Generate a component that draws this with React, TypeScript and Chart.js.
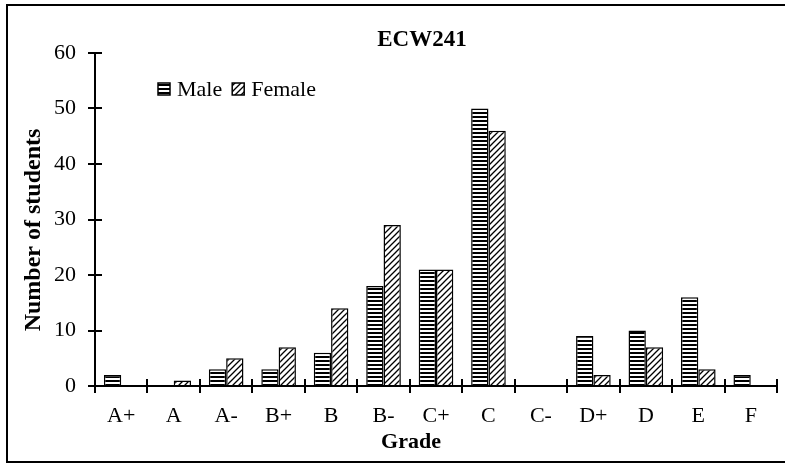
import React, { useEffect, useRef } from 'react';
import { Chart, registerables } from 'chart.js';

Chart.register(...registerables);

const grades = ['A+', 'A', 'A-', 'B+', 'B', 'B-', 'C+', 'C', 'C-', 'D+', 'D', 'E', 'F'];
const maleCounts = [2, 0, 3, 3, 6, 18, 21, 50, 0, 9, 10, 16, 2];
const femaleCounts = [0, 1, 5, 7, 14, 29, 21, 46, 0, 2, 7, 3, 0];
const seriesNames = ['Male', 'Female'];
const yMin = 0;
const yMax = 60;
const yStep = 10;
const chartTitle = 'ECW241';
const xTitle = 'Grade';
const yTitle = 'Number of students';

const FONT = '"Liberation Serif", "Times New Roman", serif';

function makeHorizontalPattern(): CanvasPattern | string {
  const c = document.createElement('canvas');
  c.width = 4;
  c.height = 4;
  const g = c.getContext('2d');
  if (!g) return '#888';
  g.fillStyle = '#ffffff';
  g.fillRect(0, 0, 4, 4);
  g.fillStyle = '#000000';
  g.fillRect(0, 0, 4, 2);
  return g.createPattern(c, 'repeat') || '#888';
}

function makeDiagonalPattern(): CanvasPattern | string {
  const s = 6;
  const c = document.createElement('canvas');
  c.width = s;
  c.height = s;
  const g = c.getContext('2d');
  if (!g) return '#ccc';
  g.fillStyle = '#ffffff';
  g.fillRect(0, 0, s, s);
  g.strokeStyle = '#000000';
  g.lineWidth = 1.3;
  g.beginPath();
  g.moveTo(0, s);
  g.lineTo(s, 0);
  g.moveTo(-2, 2);
  g.lineTo(2, -2);
  g.moveTo(s - 2, s + 2);
  g.lineTo(s + 2, s - 2);
  g.stroke();
  return g.createPattern(c, 'repeat') || '#ccc';
}

const decorPlugin = {
  id: 'decor',
  afterDraw(chart: any) {
    const ctx: CanvasRenderingContext2D = chart.ctx;
    const a = chart.chartArea;
    const xs = chart.scales.x;
    const ys = chart.scales.y;
    ctx.save();
    // inner halves of tick marks (ticks cross the axes)
    ctx.strokeStyle = '#000';
    ctx.lineWidth = 2;
    ctx.beginPath();
    const step = xs.getPixelForValue(1) - xs.getPixelForValue(0);
    const n = chart.data.labels.length;
    for (let i = 0; i <= n; i++) {
      const x = Math.round(xs.getPixelForValue(0) - step / 2 + i * step);
      ctx.moveTo(x, a.bottom);
      ctx.lineTo(x, a.bottom - 7);
    }
    ys.ticks.forEach((t: any) => {
      const y = Math.round(ys.getPixelForValue(t.value));
      ctx.moveTo(a.left, y);
      ctx.lineTo(a.left + 7, y);
    });
    ctx.stroke();

    // titles
    ctx.fillStyle = '#000';
    ctx.textAlign = 'center';
    ctx.textBaseline = 'middle';
    ctx.font = `bold 23px ${FONT}`;
    ctx.fillText(chartTitle, 422, 40);
    ctx.font = `bold 22px ${FONT}`;
    ctx.fillText(xTitle, 411, 442);
    ctx.save();
    ctx.font = `bold 24px ${FONT}`;
    ctx.translate(34, 230);
    ctx.rotate(-Math.PI / 2);
    ctx.fillText(yTitle, 0, 0);
    ctx.restore();

    // legend
    ctx.font = `22px ${FONT}`;
    ctx.textAlign = 'left';
    ctx.textBaseline = 'middle';
    let lx = a.left + 63;
    const ly = a.top + 30;
    chart.data.datasets.forEach((ds: any) => {
      ctx.fillStyle = ds.backgroundColor;
      ctx.fillRect(lx, ly, 12, 12);
      ctx.strokeStyle = '#000';
      ctx.lineWidth = 1.5;
      ctx.strokeRect(lx, ly, 12, 12);
      ctx.fillStyle = '#000';
      ctx.fillText(ds.label, lx + 19, ly + 7);
      lx += 19 + ctx.measureText(ds.label).width + 10;
    });
    ctx.restore();
  },
};

export default function App() {
  const ref = useRef<HTMLCanvasElement | null>(null);
  useEffect(() => {
    if (!ref.current) return;
    const malePattern = makeHorizontalPattern();
    const femalePattern = makeDiagonalPattern();
    const chart = new Chart(ref.current, {
      type: 'bar',
      data: {
        labels: grades,
        datasets: [
          {
            label: seriesNames[0],
            data: maleCounts,
            backgroundColor: malePattern as any,
            borderColor: '#000',
            borderWidth: 1.5,
            categoryPercentage: 0.66,
            barPercentage: 1.0,
          },
          {
            label: seriesNames[1],
            data: femaleCounts,
            backgroundColor: femalePattern as any,
            borderColor: '#000',
            borderWidth: 1.5,
            categoryPercentage: 0.66,
            barPercentage: 1.0,
          },
        ],
      },
      options: {
        animation: false,
        responsive: false,
        layout: { padding: { left: 0, top: 53, right: 8, bottom: 0 } },
        plugins: {
          legend: { display: false },
          title: { display: false },
          tooltip: { enabled: false },
        },
        scales: {
          x: {
            offset: true,
            grid: {
              offset: true,
              drawOnChartArea: false,
              drawTicks: true,
              tickLength: 7,
              color: '#000',
              lineWidth: 2,
            },
            border: { color: '#000', width: 2 },
            ticks: {
              color: '#000',
              font: { family: FONT, size: 22 },
              padding: 10,
              maxRotation: 0,
              autoSkip: false,
            },
            afterFit: (s: any) => {
              s.height = 77;
            },
          },
          y: {
            min: yMin,
            max: yMax,
            grid: {
              drawOnChartArea: false,
              drawTicks: true,
              tickLength: 7,
              color: '#000',
              lineWidth: 2,
            },
            border: { color: '#000', width: 2 },
            ticks: {
              stepSize: yStep,
              color: '#000',
              font: { family: FONT, size: 22 },
              padding: 12,
            },
            afterFit: (s: any) => {
              s.width = 95;
            },
          },
        },
      },
      plugins: [decorPlugin],
    });
    return () => chart.destroy();
  }, []);

  return (
    <div
      style={{
        position: 'absolute',
        left: 0,
        top: 0,
        width: 785,
        height: 463,
        overflow: 'hidden',
        background: '#fff',
      }}
    >
      <div
        style={{
          position: 'absolute',
          left: 6,
          top: 4,
          width: 820,
          height: 459,
          boxSizing: 'border-box',
          border: '2px solid #000',
        }}
      />
      <canvas
        ref={ref}
        width={785}
        height={463}
        style={{ position: 'absolute', left: 0, top: 0, width: 785, height: 463 }}
      />
    </div>
  );
}
